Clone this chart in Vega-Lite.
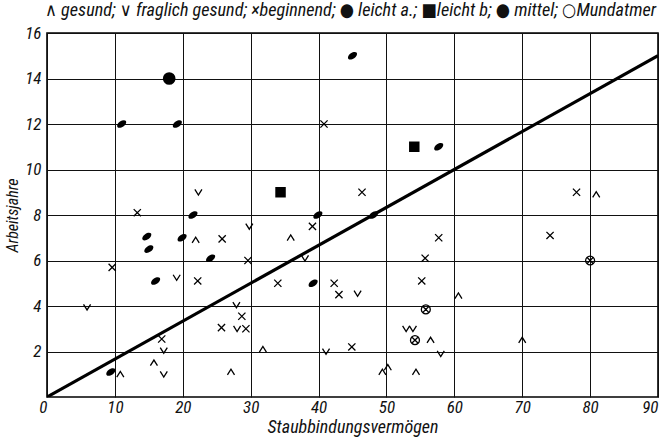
{
  "$schema": "https://vega.github.io/schema/vega-lite/v6.json",
  "width": 611,
  "height": 364,
  "autosize": {"type": "none"},
  "padding": {"left": 47, "top": 33, "right": 6, "bottom": 41},
  "background": "white",
  "title": {
    "text": "∧ gesund; ∨ fraglich gesund; ×beginnend; ● leicht a.; ■leicht b; ● mittel; ○Mundatmer",
    "anchor": "start",
    "frame": "group",
    "font": "Roboto Condensed, DejaVu Sans Condensed, Liberation Sans Narrow, Liberation Sans, sans-serif",
    "fontSize": 18.2,
    "fontStyle": "italic",
    "fontWeight": "normal",
    "color": "#111",
    "offset": 4,
    "dx": -2
  },
  "datasets": {
    "punkte": [
      {"x": 21.9, "y": 6.9, "typ": "gesund"},
      {"x": 35.9, "y": 7.0, "typ": "gesund"},
      {"x": 10.8, "y": 1.0, "typ": "gesund"},
      {"x": 15.75, "y": 1.5, "typ": "gesund"},
      {"x": 27.1, "y": 1.1, "typ": "gesund"},
      {"x": 31.8, "y": 2.1, "typ": "gesund"},
      {"x": 49.4, "y": 1.1, "typ": "gesund"},
      {"x": 50.2, "y": 1.3, "typ": "gesund"},
      {"x": 54.35, "y": 1.1, "typ": "gesund"},
      {"x": 56.5, "y": 2.5, "typ": "gesund"},
      {"x": 60.6, "y": 4.45, "typ": "gesund"},
      {"x": 70.0, "y": 2.5, "typ": "gesund"},
      {"x": 80.9, "y": 8.9, "typ": "gesund"},
      {"x": 22.3, "y": 9.0, "typ": "fraglich gesund"},
      {"x": 29.8, "y": 7.5, "typ": "fraglich gesund"},
      {"x": 38.0, "y": 6.1, "typ": "fraglich gesund"},
      {"x": 19.1, "y": 5.25, "typ": "fraglich gesund"},
      {"x": 5.9, "y": 3.95, "typ": "fraglich gesund"},
      {"x": 17.2, "y": 2.05, "typ": "fraglich gesund"},
      {"x": 17.2, "y": 1.0, "typ": "fraglich gesund"},
      {"x": 27.9, "y": 4.05, "typ": "fraglich gesund"},
      {"x": 28.0, "y": 3.0, "typ": "fraglich gesund"},
      {"x": 45.75, "y": 4.55, "typ": "fraglich gesund"},
      {"x": 41.1, "y": 2.0, "typ": "fraglich gesund"},
      {"x": 52.9, "y": 3.0, "typ": "fraglich gesund"},
      {"x": 53.9, "y": 3.0, "typ": "fraglich gesund"},
      {"x": 58.0, "y": 1.9, "typ": "fraglich gesund"},
      {"x": 13.3, "y": 8.1, "typ": "beginnend"},
      {"x": 25.8, "y": 6.95, "typ": "beginnend"},
      {"x": 40.8, "y": 12.0, "typ": "beginnend"},
      {"x": 46.4, "y": 9.0, "typ": "beginnend"},
      {"x": 39.1, "y": 7.5, "typ": "beginnend"},
      {"x": 55.7, "y": 6.1, "typ": "beginnend"},
      {"x": 57.7, "y": 7.0, "typ": "beginnend"},
      {"x": 78.0, "y": 9.0, "typ": "beginnend"},
      {"x": 74.1, "y": 7.1, "typ": "beginnend"},
      {"x": 9.6, "y": 5.7, "typ": "beginnend"},
      {"x": 22.2, "y": 5.1, "typ": "beginnend"},
      {"x": 16.9, "y": 2.55, "typ": "beginnend"},
      {"x": 28.7, "y": 3.55, "typ": "beginnend"},
      {"x": 25.7, "y": 3.05, "typ": "beginnend"},
      {"x": 29.3, "y": 3.0, "typ": "beginnend"},
      {"x": 29.6, "y": 6.0, "typ": "beginnend"},
      {"x": 34.0, "y": 5.0, "typ": "beginnend"},
      {"x": 42.3, "y": 5.0, "typ": "beginnend"},
      {"x": 43.0, "y": 4.5, "typ": "beginnend"},
      {"x": 44.9, "y": 2.2, "typ": "beginnend"},
      {"x": 55.2, "y": 5.1, "typ": "beginnend"},
      {"x": 11.0, "y": 12.0, "typ": "leicht a"},
      {"x": 19.2, "y": 12.0, "typ": "leicht a"},
      {"x": 45.0, "y": 15.0, "typ": "leicht a"},
      {"x": 57.7, "y": 11.0, "typ": "leicht a"},
      {"x": 21.5, "y": 8.0, "typ": "leicht a"},
      {"x": 14.7, "y": 7.05, "typ": "leicht a"},
      {"x": 15.0, "y": 6.5, "typ": "leicht a"},
      {"x": 19.9, "y": 7.0, "typ": "leicht a"},
      {"x": 24.1, "y": 6.1, "typ": "leicht a"},
      {"x": 16.0, "y": 5.1, "typ": "leicht a"},
      {"x": 39.9, "y": 8.0, "typ": "leicht a"},
      {"x": 48.1, "y": 8.0, "typ": "leicht a"},
      {"x": 39.2, "y": 5.0, "typ": "leicht a"},
      {"x": 9.4, "y": 1.1, "typ": "leicht a"},
      {"x": 54.1, "y": 11.0, "typ": "leicht b"},
      {"x": 34.4, "y": 9.0, "typ": "leicht b"},
      {"x": 18.0, "y": 14.0, "typ": "mittel"},
      {"x": 80.0, "y": 6.0, "typ": "Mundatmer"},
      {"x": 55.8, "y": 3.85, "typ": "Mundatmer"},
      {"x": 54.2, "y": 2.5, "typ": "Mundatmer"}
    ],
    "linie": [
      {"x": 0, "y": 0},
      {"x": 90, "y": 15}
    ]
  },
  "layer": [
    {
      "data": {"name": "linie"},
      "mark": {"type": "line", "color": "black", "strokeWidth": 3.2, "clip": true},
      "encoding": {
        "x": {"field": "x", "type": "quantitative", "scale": {"domain": [0, 90], "nice": false, "zero": false},
          "axis": {"values": [0, 10, 20, 30, 40, 50, 60, 70, 80, 90], "title": "Staubbindungsvermögen",
            "labelAlign": {"condition": {"test": "datum.value == 0 || datum.value == 90", "value": "right"}, "value": "center"}}},
        "y": {"field": "y", "type": "quantitative", "scale": {"domain": [0, 16], "nice": false, "zero": false},
          "axis": {"values": [2, 4, 6, 8, 10, 12, 14, 16], "title": "Arbeitsjahre"}}
      }
    },
    {
      "data": {"name": "punkte"},
      "transform": [{"filter": {"field": "typ", "oneOf": ["gesund", "fraglich gesund", "beginnend", "Mundatmer"]}}],
      "mark": {"type": "point", "filled": false, "color": "black", "strokeWidth": 1.3, "opacity": 1},
      "encoding": {
        "x": {"field": "x", "type": "quantitative", "scale": {"domain": [0, 90], "nice": false, "zero": false},
          "axis": {"values": [0, 10, 20, 30, 40, 50, 60, 70, 80, 90], "title": "Staubbindungsvermögen",
            "labelAlign": {"condition": {"test": "datum.value == 0 || datum.value == 90", "value": "right"}, "value": "center"}}},
        "y": {"field": "y", "type": "quantitative", "scale": {"domain": [0, 16], "nice": false, "zero": false},
          "axis": {"values": [2, 4, 6, 8, 10, 12, 14, 16], "title": "Arbeitsjahre"}},
        "shape": {"field": "typ", "type": "nominal", "legend": null,
          "scale": {"domain": ["gesund", "fraglich gesund", "beginnend", "leicht a", "leicht b", "mittel", "Mundatmer"],
            "range": ["M-1,0.8L0,-0.8L1,0.8", "M-1,-0.8L0,0.8L1,-0.8", "M-1,-1L1,1M-1,1L1,-1",
              "M-0.82,0.57A1,0.6,-35,0,1,0.82,-0.57A1,0.6,-35,0,1,-0.82,0.57Z", "square", "circle",
              "M1,0A1,1,0,1,1,-1,0A1,1,0,1,1,1,0ZM-0.6,-0.6L0.6,0.6M-0.6,0.6L0.6,-0.6"]}},
        "size": {"field": "typ", "type": "nominal", "legend": null,
          "scale": {"type": "ordinal", "domain": ["gesund", "fraglich gesund", "beginnend", "leicht a", "leicht b", "mittel", "Mundatmer"],
            "range": [50, 50, 52, 110, 110, 160, 80]}}
      }
    },
    {
      "data": {"name": "punkte"},
      "transform": [{"filter": {"field": "typ", "oneOf": ["leicht a", "leicht b", "mittel"]}}],
      "mark": {"type": "point", "filled": true, "color": "black", "opacity": 1},
      "encoding": {
        "x": {"field": "x", "type": "quantitative", "scale": {"domain": [0, 90], "nice": false, "zero": false},
          "axis": {"values": [0, 10, 20, 30, 40, 50, 60, 70, 80, 90], "title": "Staubbindungsvermögen",
            "labelAlign": {"condition": {"test": "datum.value == 0 || datum.value == 90", "value": "right"}, "value": "center"}}},
        "y": {"field": "y", "type": "quantitative", "scale": {"domain": [0, 16], "nice": false, "zero": false},
          "axis": {"values": [2, 4, 6, 8, 10, 12, 14, 16], "title": "Arbeitsjahre"}},
        "shape": {"field": "typ", "type": "nominal", "legend": null,
          "scale": {"domain": ["gesund", "fraglich gesund", "beginnend", "leicht a", "leicht b", "mittel", "Mundatmer"],
            "range": ["M-1,0.8L0,-0.8L1,0.8", "M-1,-0.8L0,0.8L1,-0.8", "M-1,-1L1,1M-1,1L1,-1",
              "M-0.82,0.57A1,0.6,-35,0,1,0.82,-0.57A1,0.6,-35,0,1,-0.82,0.57Z", "square", "circle",
              "M1,0A1,1,0,1,1,-1,0A1,1,0,1,1,1,0ZM-0.6,-0.6L0.6,0.6M-0.6,0.6L0.6,-0.6"]}},
        "size": {"field": "typ", "type": "nominal", "legend": null,
          "scale": {"type": "ordinal", "domain": ["gesund", "fraglich gesund", "beginnend", "leicht a", "leicht b", "mittel", "Mundatmer"],
            "range": [50, 50, 52, 110, 110, 160, 80]}}
      }
    }
  ],
  "config": {
    "view": {"stroke": "black", "strokeWidth": 1.6},
    "axis": {
      "domain": false,
      "ticks": false,
      "grid": true,
      "gridColor": "#111",
      "gridOpacity": 1,
      "gridWidth": 1,
      "labelFont": "Roboto Condensed, DejaVu Sans Condensed, Liberation Sans Narrow, Liberation Sans, sans-serif",
      "labelFontSize": 17,
      "labelFontStyle": "italic",
      "labelColor": "#111",
      "titleFont": "Roboto Condensed, DejaVu Sans Condensed, Liberation Sans Narrow, Liberation Sans, sans-serif",
      "titleFontStyle": "italic",
      "titleFontWeight": "normal",
      "titleColor": "#111"
    },
    "axisX": {"labelPadding": 2, "titlePadding": 3, "titleFontSize": 18},
    "axisY": {"labelPadding": 6, "titlePadding": 4, "titleFontSize": 16}
  }
}
